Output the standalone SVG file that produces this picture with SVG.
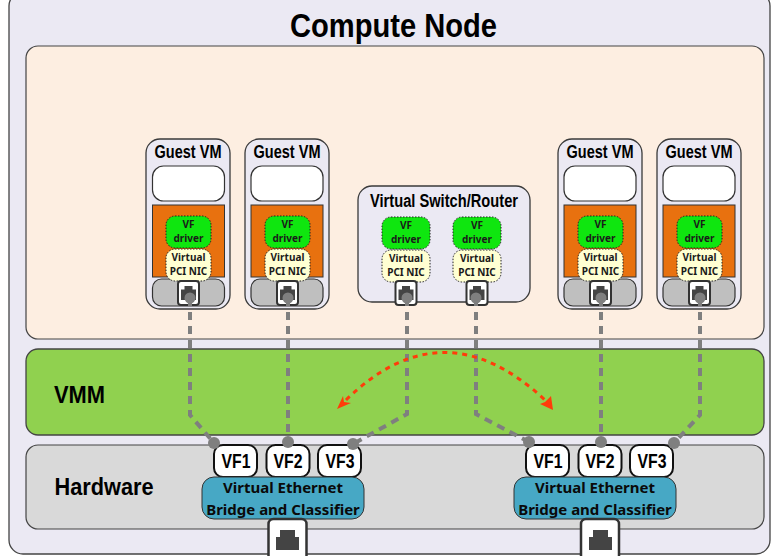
<svg xmlns="http://www.w3.org/2000/svg" width="772" height="556" viewBox="0 0 772 556">
<defs>
<style>
text{font-family:"Liberation Sans",Arial,sans-serif;text-anchor:middle;fill:#000}
.b{font-weight:bold}
.vm{fill:#ebe9f3;stroke:#3a3a3a;stroke-width:1.3}
.app{fill:#fff;stroke:#333;stroke-width:1.2}
.or{fill:#e8710f;stroke:#333;stroke-width:1}
.gr{fill:#bfbfbf;stroke:#333;stroke-width:1.2}
.vf{fill:#0fe60f;stroke:#222;stroke-width:1;stroke-dasharray:1.5 1.5}
.nic{fill:#ffffd2;stroke:#222;stroke-width:1;stroke-dasharray:1.5 1.5}
.t{font-size:10px;font-family:"Noto Sans","Liberation Sans",sans-serif;font-weight:bold;fill:#1a1a1a}
.br{font-size:15px;font-family:"Noto Sans","Liberation Sans",sans-serif;font-weight:bold;fill:#0a0a0a}
.port{fill:#fff;stroke:#333;stroke-width:2}
.jack{fill:#444}
.vfb{fill:#fff;stroke:#111;stroke-width:2}
.dot{fill:#7f7f7f}
.wire{fill:none;stroke:#7f7f7f;stroke-width:4;stroke-dasharray:8 6}
.lab{font-size:18px}
.vfl{font-size:20px;font-weight:bold}
</style>
<g id="jack"><path class="jack" d="M-7.500 8V-2.500H-4V-6H4V-2.500H7.500V8Z"/></g>
</defs>
<g id="compute-node"><rect x="9" y="-8" width="761" height="562" rx="14" fill="#ebe9f3" stroke="#444" stroke-width="1.3"/>
<text x="393.500" y="37" class="b" font-size="34" textLength="207" lengthAdjust="spacingAndGlyphs">Compute Node</text></g>
<g id="host-space"><rect x="26" y="46" width="738" height="293" rx="12" fill="#fdeee1" stroke="#444" stroke-width="1.2"/></g>
<g id="vmm"><rect x="26" y="349" width="738" height="86" rx="12" fill="#90d14f" stroke="#444" stroke-width="1.3"/>
<text x="79.500" y="403" class="b" font-size="24" textLength="51" lengthAdjust="spacingAndGlyphs">VMM</text></g>
<g id="hardware"><rect x="26" y="445" width="738" height="84" rx="12" fill="#d9d9d9" stroke="#444" stroke-width="1.2"/>
<text x="104" y="495" class="b" font-size="24" textLength="99" lengthAdjust="spacingAndGlyphs">Hardware</text></g>

<g id="vm1"><rect class="vm" x="146" y="139" width="84" height="170" rx="14"/>
<text x="188" y="158" class="b lab" textLength="67" lengthAdjust="spacingAndGlyphs">Guest VM</text>
<rect class="app" x="152.500" y="166" width="72" height="35" rx="11"/>
<rect class="or" x="152.500" y="205" width="72" height="72"/>
<rect class="gr" x="152.500" y="279" width="72" height="27" rx="9"/>
<rect class="vf" x="166" y="216" width="45" height="32" rx="9"/><text class="t" x="188.500" y="228">VF</text><text class="t" x="188.500" y="242">driver</text>
<rect class="nic" x="166" y="249" width="45" height="32" rx="9"/><text class="t" x="188.500" y="261">Virtual</text><text class="t" x="188.500" y="275">PCI NIC</text>
<rect class="port" x="178" y="281" width="21" height="24" rx="3"/><use href="#jack" x="188.500" y="292"/></g>

<g id="vm2"><rect class="vm" x="245" y="139" width="84" height="170" rx="14"/>
<text x="287" y="158" class="b lab" textLength="67" lengthAdjust="spacingAndGlyphs">Guest VM</text>
<rect class="app" x="251" y="166" width="72" height="35" rx="11"/>
<rect class="or" x="251" y="205" width="72" height="72"/>
<rect class="gr" x="251" y="279" width="72" height="27" rx="9"/>
<rect class="vf" x="265" y="216" width="45" height="32" rx="9"/><text class="t" x="287.500" y="228">VF</text><text class="t" x="287.500" y="242">driver</text>
<rect class="nic" x="265" y="249" width="45" height="32" rx="9"/><text class="t" x="287.500" y="261">Virtual</text><text class="t" x="287.500" y="275">PCI NIC</text>
<rect class="port" x="277" y="281" width="21" height="24" rx="3"/><use href="#jack" x="287.500" y="292"/></g>

<g id="vswitch"><rect class="vm" x="358" y="186" width="172" height="116" rx="14"/>
<text x="444" y="207" class="b lab" textLength="148" lengthAdjust="spacingAndGlyphs">Virtual Switch/Router</text>
<rect class="vf" x="382" y="217" width="48" height="32" rx="9"/><text class="t" x="406" y="229">VF</text><text class="t" x="406" y="243">driver</text>
<rect class="nic" x="382" y="250" width="48" height="32" rx="9"/><text class="t" x="406" y="262">Virtual</text><text class="t" x="406" y="276">PCI NIC</text>
<rect class="port" x="395.500" y="281" width="21" height="24" rx="3"/><use href="#jack" x="406" y="292"/>
<rect class="vf" x="453" y="217" width="48" height="32" rx="9"/><text class="t" x="477" y="229">VF</text><text class="t" x="477" y="243">driver</text>
<rect class="nic" x="453" y="250" width="48" height="32" rx="9"/><text class="t" x="477" y="262">Virtual</text><text class="t" x="477" y="276">PCI NIC</text>
<rect class="port" x="466.500" y="281" width="21" height="24" rx="3"/><use href="#jack" x="477" y="292"/></g>

<g id="vm3"><rect class="vm" x="558" y="139" width="84" height="170" rx="14"/>
<text x="600" y="158" class="b lab" textLength="67" lengthAdjust="spacingAndGlyphs">Guest VM</text>
<rect class="app" x="564" y="166" width="72" height="35" rx="11"/>
<rect class="or" x="564" y="205" width="72" height="72"/>
<rect class="gr" x="564" y="279" width="72" height="27" rx="9"/>
<rect class="vf" x="578" y="216" width="45" height="32" rx="9"/><text class="t" x="600.500" y="228">VF</text><text class="t" x="600.500" y="242">driver</text>
<rect class="nic" x="578" y="249" width="45" height="32" rx="9"/><text class="t" x="600.500" y="261">Virtual</text><text class="t" x="600.500" y="275">PCI NIC</text>
<rect class="port" x="590" y="281" width="21" height="24" rx="3"/><use href="#jack" x="600.500" y="292"/></g>

<g id="vm4"><rect class="vm" x="657" y="139" width="84" height="170" rx="14"/>
<text x="699" y="158" class="b lab" textLength="67" lengthAdjust="spacingAndGlyphs">Guest VM</text>
<rect class="app" x="663" y="166" width="72" height="35" rx="11"/>
<rect class="or" x="663" y="205" width="72" height="72"/>
<rect class="gr" x="663" y="279" width="72" height="27" rx="9"/>
<rect class="vf" x="677" y="216" width="45" height="32" rx="9"/><text class="t" x="699.500" y="228">VF</text><text class="t" x="699.500" y="242">driver</text>
<rect class="nic" x="677" y="249" width="45" height="32" rx="9"/><text class="t" x="699.500" y="261">Virtual</text><text class="t" x="699.500" y="275">PCI NIC</text>
<rect class="port" x="689" y="281" width="21" height="24" rx="3"/><use href="#jack" x="699.500" y="292"/></g>

<g id="bridge1">
<rect class="vfb" x="214" y="445" width="43" height="32" rx="9"/><text x="236" y="468" class="vfl" textLength="29" lengthAdjust="spacingAndGlyphs">VF1</text>
<rect class="vfb" x="266.500" y="445" width="43" height="32" rx="9"/><text x="288" y="468" class="vfl" textLength="29" lengthAdjust="spacingAndGlyphs">VF2</text>
<rect class="vfb" x="318" y="445" width="43" height="32" rx="9"/><text x="340" y="468" class="vfl" textLength="29" lengthAdjust="spacingAndGlyphs">VF3</text>
<rect x="202" y="477" width="162" height="42" rx="12" fill="#47a8c5" stroke="#333" stroke-width="1"/>
<text x="283" y="493" class="br">Virtual Ethernet</text>
<text x="283" y="515" class="br">Bridge and Classifier</text>
<rect class="port" x="268.500" y="519" width="38" height="42" rx="5" style="stroke-width:2.500"/>
<path class="jack" d="M276 550V537H280V530H295V537H299V550Z"/></g>

<g id="bridge2">
<rect class="vfb" x="526" y="445" width="43" height="32" rx="9"/><text x="548" y="468" class="vfl" textLength="29" lengthAdjust="spacingAndGlyphs">VF1</text>
<rect class="vfb" x="578.500" y="445" width="43" height="32" rx="9"/><text x="600" y="468" class="vfl" textLength="29" lengthAdjust="spacingAndGlyphs">VF2</text>
<rect class="vfb" x="630" y="445" width="43" height="32" rx="9"/><text x="652" y="468" class="vfl" textLength="29" lengthAdjust="spacingAndGlyphs">VF3</text>
<rect x="514" y="477" width="162" height="42" rx="12" fill="#47a8c5" stroke="#333" stroke-width="1"/>
<text x="595" y="493" class="br">Virtual Ethernet</text>
<text x="595" y="515" class="br">Bridge and Classifier</text>
<rect class="port" x="581" y="519" width="38" height="42" rx="5" style="stroke-width:2.500"/>
<path class="jack" d="M589 550V537H593V530H608V537H612V550Z"/></g>

<g id="connectors">
<path class="wire" d="M190 298V415L214 443"/>
<path class="wire" d="M288 298V442"/>
<path class="wire" d="M407 298V414L353 444"/>
<path class="wire" d="M476 298V414L529 442"/>
<path class="wire" d="M601 298V442"/>
<path class="wire" d="M700 298V415L674 443"/>
<g class="dot">
<circle cx="190" cy="298" r="5.500"/><circle cx="288" cy="298" r="5.500"/><circle cx="407" cy="298" r="5.500"/><circle cx="476" cy="298" r="5.500"/><circle cx="601" cy="298" r="5.500"/><circle cx="700" cy="298" r="5.500"/>
<circle cx="214" cy="443" r="6"/><circle cx="288" cy="442" r="6"/><circle cx="353" cy="444" r="6"/><circle cx="529" cy="442" r="6"/><circle cx="601" cy="442" r="6"/><circle cx="674" cy="443" r="6"/>
</g>
<path d="M346 400Q443 305 545 400" fill="none" stroke="#ff3c0a" stroke-width="3" stroke-dasharray="5 5"/>
<path d="M337 409L343 396L344 402L351 403Z" fill="#ff3c0a"/>
<path d="M553 410L551 396L545 402L540 404Z" fill="#ff3c0a"/>
</g>
</svg>
